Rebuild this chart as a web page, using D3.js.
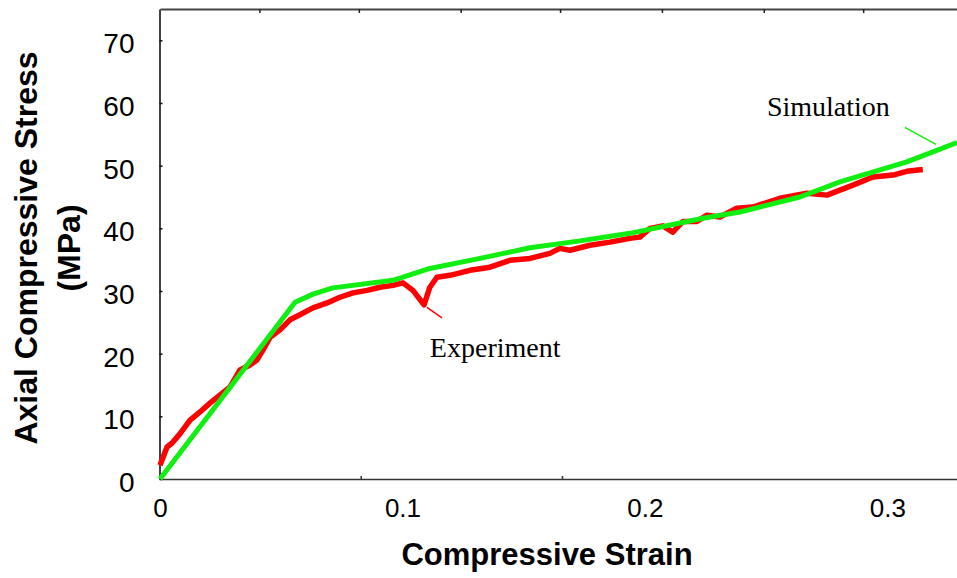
<!DOCTYPE html>
<html>
<head>
<meta charset="utf-8">
<script src="https://cdn.jsdelivr.net/npm/d3@7"></script>
<style>
    body { margin: 0; background: #fff; }
</style>
</head>
<body>
<div id="chart"></div>
<script>
// values (strain, MPa)
const simStrain = [0, 0.0557, 0.0631, 0.0713, 0.0961, 0.1113, 0.1320, 0.1526, 0.1732, 0.1938, 0.2239, 0.2392, 0.2639, 0.2804, 0.3080, 0.3287];
const simStress = [0, 28.2, 29.5, 30.5, 31.7, 33.6, 35.2, 36.9, 38.0, 39.2, 41.6, 42.6, 45.0, 47.4, 50.6, 53.7];

const expStrain = [0, 0.0029, 0.0049, 0.0082, 0.0124, 0.0165, 0.0206, 0.0247, 0.0289, 0.0330, 0.0371, 0.0400, 0.0425,
    0.0454, 0.0495, 0.0536, 0.0577, 0.0631, 0.0689, 0.0742, 0.0796, 0.0854, 0.0907, 0.0961, 0.1002, 0.1043, 0.1089,
    0.1113, 0.1142, 0.1196, 0.1278, 0.1361, 0.1443, 0.1526, 0.1608, 0.1649, 0.1691, 0.1773, 0.1856, 0.1938, 0.1979,
    0.2021, 0.2074, 0.2115, 0.2157, 0.2214, 0.2256, 0.2309, 0.2379, 0.2445, 0.2557, 0.2668, 0.2751, 0.2804, 0.2858,
    0.2940, 0.3023, 0.3080, 0.3146];
const expStress = [2.2, 5.1, 5.7, 7.2, 9.4, 10.7, 12.1, 13.4, 14.7, 17.4, 18.2, 19.0, 20.6,
    22.6, 23.8, 25.4, 26.2, 27.3, 28.1, 29.0, 29.7, 30.1, 30.6, 30.9, 31.3, 30.1, 27.8,
    30.6, 32.2, 32.5, 33.3, 33.8, 34.9, 35.2, 36.0, 36.8, 36.5, 37.3, 37.8, 38.4, 38.6,
    40.0, 40.4, 39.4, 41.1, 41.1, 42.1, 41.8, 43.2, 43.4, 44.8, 45.6, 45.3, 46.1, 46.9,
    48.2, 48.5, 49.1, 49.4];

const xTickValues = [0, 0.1, 0.2, 0.3];
const yTickValues = [0, 10, 20, 30, 40, 50, 60, 70];
const topTickValues = [0.041, 0.082, 0.124, 0.165, 0.207, 0.249, 0.290];
const bottomMinorTicks = [0.083, 0.166];

// labels with their leader lines
const simLabel = { text: "Simulation", at: [0.2503, 57.9], leader: [[0.3072, 56.1], [0.3200, 53.4]] };
const expLabel = { text: "Experiment", at: [0.1113, 19.5], leader: [[0.1101, 27.4], [0.1163, 25.7]] };

const width = 957, height = 578;
const red = "#ff0000", green = "#11ee11";

const svg = d3.select("#chart").append("svg")
    .attr("width", width)
    .attr("height", height);

const x = d3.scaleLinear().domain([0, 0.3287]).range([160, 957]);
const y = d3.scaleLinear().domain([0, 75]).range([479, 9]);

const axisFont = "Liberation Sans, Arial, sans-serif";
const serifFont = "Liberation Serif, Times New Roman, serif";

// top frame line with small ticks
const topAxis = svg.append("g")
    .attr("transform", `translate(0, ${y(75)})`)
    .call(d3.axisTop(x).tickValues(topTickValues).tickSizeInner(-4).tickSizeOuter(0).tickFormat(""));
topAxis.select(".domain").attr("stroke", "#444").attr("stroke-width", 2.2);
topAxis.selectAll(".tick line").attr("stroke", "#222").attr("stroke-width", 1.5);

// left axis
const leftAxis = svg.append("g")
    .attr("transform", `translate(${x(0) - 0.5}, 0)`)
    .call(d3.axisLeft(y).tickValues(yTickValues).tickSizeInner(-3).tickSizeOuter(0).tickPadding(25).tickFormat(d3.format("d")));
leftAxis.select(".domain").attr("stroke", "#111").attr("stroke-width", 1.6);
leftAxis.selectAll(".tick line").attr("stroke", "#111").attr("stroke-width", 1.5);
leftAxis.selectAll(".tick text")
    .attr("dy", "0.45em")
    .style("font-family", axisFont)
    .style("font-size", "28px")
    .attr("fill", "#000");

// bottom axis
const bottomAxis = svg.append("g")
    .attr("transform", `translate(0, ${y(0)})`)
    .call(d3.axisBottom(x).tickValues(xTickValues).tickSize(0).tickPadding(20).tickFormat(d => d === 0 ? "0" : d3.format(".1f")(d)));
bottomAxis.select(".domain").attr("stroke", "#333").attr("stroke-width", 1.6);
bottomAxis.selectAll(".tick text")
    .style("font-family", axisFont)
    .style("font-size", "26px")
    .attr("fill", "#000");

svg.append("g")
    .selectAll("line")
    .data(bottomMinorTicks)
    .join("line")
    .attr("x1", d => x(d)).attr("x2", d => x(d))
    .attr("y1", y(0)).attr("y2", y(0) - 3)
    .attr("stroke", "#333")
    .attr("stroke-width", 1.5);

// axis titles
svg.append("text")
    .attr("x", 547)
    .attr("y", 565)
    .attr("text-anchor", "middle")
    .style("font-family", axisFont)
    .style("font-weight", "bold")
    .style("font-size", "31px")
    .text("Compressive Strain");

const yTitle = svg.append("g")
    .attr("transform", "translate(0, 248) rotate(-90)")
    .style("font-family", axisFont)
    .style("font-weight", "bold")
    .style("font-size", "32px")
    .attr("text-anchor", "middle");
yTitle.append("text").attr("x", 0).attr("y", 37).text("Axial Compressive Stress");
yTitle.append("text").attr("x", 0).attr("y", 80).text("(MPa)");

// curves
const line = d3.line()
    .x(d => x(d[0]))
    .y(d => y(d[1]));

const simData = simStrain.map((s, i) => [s, simStress[i]]);
const expData = expStrain.map((s, i) => [s, expStress[i]]);

svg.append("path")
    .datum(expData)
    .attr("fill", "none")
    .attr("stroke", red)
    .attr("stroke-width", 5.5)
    .attr("stroke-linejoin", "round")
    .attr("d", line);

svg.append("path")
    .datum(simData)
    .attr("fill", "none")
    .attr("stroke", green)
    .attr("stroke-width", 5)
    .attr("stroke-linejoin", "round")
    .attr("d", line);

// annotations
[[simLabel, green], [expLabel, red]].forEach(([lab, color]) => {
    svg.append("line")
        .attr("x1", x(lab.leader[0][0])).attr("y1", y(lab.leader[0][1]))
        .attr("x2", x(lab.leader[1][0])).attr("y2", y(lab.leader[1][1]))
        .attr("stroke", color)
        .attr("stroke-width", 1.5);

    svg.append("text")
        .attr("x", x(lab.at[0]))
        .attr("y", y(lab.at[1]))
        .style("font-family", serifFont)
        .style("font-size", "28px")
        .attr("fill", "#000")
        .text(lab.text);
});
</script>
</body>
</html>
